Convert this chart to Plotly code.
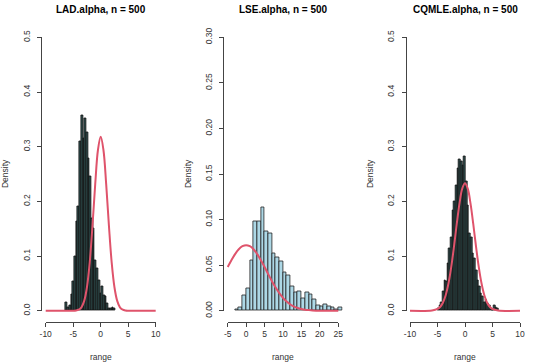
import plotly.graph_objects as go

W, H = 534, 364

# ---- data ----
# LAD.alpha: histogram densities, bins of fixed width starting at lad_start
lad_start, lad_width = -6.35, 0.31
lad_density = [0.016, 0.007, 0.010, 0.030, 0.053, 0.100, 0.163, 0.190, 0.310, 0.357,
               0.315, 0.352, 0.326, 0.279, 0.245, 0.169, 0.150, 0.093, 0.077, 0.056,
               0.032, 0.044, 0.029, 0.026, 0.013, 0.004, 0.004, 0.007, 0.004]
lad_curve_x = [-10, -5, -4.5, -4, -3.5, -3, -2.5, -2, -1.5, -1, -0.5, 0,
               0.5, 1, 1.5, 2, 2.5, 3, 3.5, 4, 4.5, 5, 10]
lad_curve_y = [0, 0.0001, 0.0005, 0.0019, 0.0063, 0.018, 0.043, 0.088, 0.155, 0.231, 0.294, 0.318,
               0.294, 0.231, 0.155, 0.088, 0.043, 0.018, 0.0063, 0.0019, 0.0005, 0.0001, 0]

# LSE.alpha
lse_start, lse_width = -3, 1
lse_density = [0.0015, 0.004, 0.017, 0.024, 0.055, 0.098, 0.098, 0.113, 0.087, 0.085,
               0.063, 0.059, 0.054, 0.042, 0.039, 0.027, 0.020, 0.021, 0.014, 0.020,
               0.018, 0.012, 0.0055, 0.005, 0.007, 0.005, 0.0037, 0.0015, 0.0037]
lse_curve_x = [-5, -4, -3, -2, -1, 0, 1, 2, 3, 4, 5, 6, 7, 8, 9, 10, 11, 12,
               13, 14, 15, 16, 17, 18, 20, 25]
lse_curve_y = [0.048, 0.0555, 0.0622, 0.0675, 0.0708, 0.072, 0.0708, 0.0675, 0.0622, 0.0555,
               0.048, 0.0401, 0.0325, 0.0255, 0.0193, 0.0142, 0.0101, 0.0069, 0.0046, 0.003,
               0.0019, 0.0011, 0.0007, 0.0004, 0.0001, 0]

# CQMLE.alpha
cq_start, cq_width = -5.0, 0.3
cq_density = [0.004, 0.010, 0.016, 0.035, 0.056, 0.053, 0.087, 0.114, 0.135, 0.184,
              0.200, 0.230, 0.260, 0.277, 0.273, 0.266, 0.282, 0.236, 0.193, 0.141,
              0.135, 0.105, 0.096, 0.074, 0.056, 0.044, 0.032, 0.026, 0.016, 0.020,
              0.013, 0.010, 0.004, 0.001, 0.010, 0.007, 0.004]
cq_curve_x = [-10, -6, -5, -4.5, -4, -3.5, -3, -2.5, -2, -1.5, -1, -0.5, 0,
              0.5, 1, 1.5, 2, 2.5, 3, 3.5, 4, 4.5, 5, 6, 10]
cq_curve_y = [0, 0.0005, 0.0033, 0.0073, 0.0152, 0.0288, 0.0502, 0.0802, 0.1177, 0.1587, 0.1964, 0.2233, 0.233,
              0.2233, 0.1964, 0.1587, 0.1177, 0.0802, 0.0502, 0.0288, 0.0152, 0.0073, 0.0033, 0.0005, 0]

titles = ["LAD.alpha, n = 500", "LSE.alpha, n = 500", "CQMLE.alpha, n = 500"]
x_ticks = [[-10, -5, 0, 5, 10], [-5, 0, 5, 10, 15, 20, 25], [-10, -5, 0, 5, 10]]
y_ticks = [[0, 0.1, 0.2, 0.3, 0.4, 0.5],
           [0, 0.05, 0.10, 0.15, 0.20, 0.25, 0.30],
           [0, 0.1, 0.2, 0.3, 0.4, 0.5]]
y_ticktext = [["0.0", "0.1", "0.2", "0.3", "0.4", "0.5"],
              ["0.00", "0.05", "0.10", "0.15", "0.20", "0.25", "0.30"],
              ["0.0", "0.1", "0.2", "0.3", "0.4", "0.5"]]

FONT = "Liberation Sans, Arial, Helvetica, sans-serif"
CURVE = "#DF536B"


def px_x(p):
    return p / W


def px_y(p):
    return 1 - p / H


# plot regions in pixels (left, right), shared top/bottom
regions = [(41.3, 160.1), (223.3, 342.7), (405.6, 524.4)]
top, bottom = 26.4, 321.7
fills = ["#2F4F4F", "#ADD8E6", "#2F4F4F"]
edges = ["#111111", "#222222", "#111111"]
ylab_x = [5, 188, 370]

hists = [(lad_start, lad_width, lad_density, lad_curve_x, lad_curve_y),
         (lse_start, lse_width, lse_density, lse_curve_x, lse_curve_y),
         (cq_start, cq_width, cq_density, cq_curve_x, cq_curve_y)]

fig = go.Figure()
layout = {}
annotations = []

for i, (start, width, dens, cx, cy) in enumerate(hists):
    k = i + 1
    d = i + 4
    xs = "" if k == 1 else str(k)
    left, right = regions[i]
    xt, yt = x_ticks[i], y_ticks[i]
    xpad = (xt[-1] - xt[0]) * 0.04
    ypad = (yt[-1] - yt[0]) * 0.04
    xr = [xt[0] - xpad, xt[-1] + xpad]
    yr = [yt[0] - ypad, yt[-1] + ypad]

    # dummy trace to hold the R-style axes (added first so it sits underneath)
    fig.add_trace(go.Scatter(x=[None], y=[None], xaxis="x%d" % d, yaxis="y%d" % d,
                             showlegend=False, hoverinfo="skip"))

    centers = [start + width * (j + 0.5) for j in range(len(dens))]
    fig.add_trace(go.Bar(
        x=centers, y=dens, width=width,
        marker=dict(color=fills[i], line=dict(color=edges[i], width=0.8)),
        xaxis="x" + xs, yaxis="y" + xs, showlegend=False,
    ))
    fig.add_trace(go.Scatter(
        x=cx, y=cy, mode="lines", line=dict(color=CURVE, width=2, shape="spline"),
        xaxis="x" + xs, yaxis="y" + xs, showlegend=False,
    ))

    layout["xaxis" + xs] = dict(domain=[px_x(left), px_x(right)], range=xr, visible=False,
                                anchor="y" + xs)
    layout["yaxis" + xs] = dict(domain=[px_y(bottom), px_y(top)], range=yr, visible=False,
                                anchor="x" + xs)

    # tick spans in pixels
    sx0 = left + (xt[0] - xr[0]) / (xr[1] - xr[0]) * (right - left)
    sx1 = left + (xt[-1] - xr[0]) / (xr[1] - xr[0]) * (right - left)
    sy0 = bottom - (yt[0] - yr[0]) / (yr[1] - yr[0]) * (bottom - top)
    sy1 = bottom - (yt[-1] - yr[0]) / (yr[1] - yr[0]) * (bottom - top)

    axis_style = dict(showline=True, linecolor="#444444", linewidth=1, ticks="outside",
                      ticklen=4, tickcolor="#444444", showgrid=False, zeroline=False,
                      automargin=False,
                      tickfont=dict(family=FONT, size=8.5, color="#333333"))
    layout["xaxis%d" % d] = dict(domain=[px_x(sx0), px_x(sx1)], range=[xt[0], xt[-1]],
                                 anchor="free", position=px_y(bottom), tickmode="array",
                                 tickvals=xt, ticktext=[str(v) for v in xt], **axis_style)
    layout["yaxis%d" % d] = dict(domain=[px_y(sy0), px_y(sy1)], range=[yt[0], yt[-1]],
                                 anchor="free", position=px_x(left), tickmode="array",
                                 tickvals=yt, ticktext=y_ticktext[i], tickangle=-90,
                                 ticklabelstandoff=4, **axis_style)

    cx_mid = (left + right) / 2
    common = dict(xref="paper", yref="paper", showarrow=False,
                  xanchor="center", yanchor="middle")
    annotations.append(dict(text="<b>%s</b>" % titles[i], x=px_x(cx_mid), y=px_y(9),
                            font=dict(family=FONT, size=10, color="#000000"), **common))
    annotations.append(dict(text="range", x=px_x(cx_mid), y=px_y(357),
                            font=dict(family=FONT, size=8.5, color="#333333"), **common))
    annotations.append(dict(text="Density", x=px_x(ylab_x[i]), y=px_y((top + bottom) / 2),
                            textangle=-90,
                            font=dict(family=FONT, size=8.5, color="#333333"), **common))

fig.update_layout(
    width=W, height=H, autosize=False,
    margin=dict(l=0, r=0, t=0, b=0, pad=0),
    paper_bgcolor="white", plot_bgcolor="rgba(0,0,0,0)",
    bargap=0, annotations=annotations, hovermode=False,
    **layout,
)

# drop the browser's default 8px body margin so the figure fills the window
fig.write_html("out.html", config={"displayModeBar": False},
               post_script="document.body.style.margin = '0';")
